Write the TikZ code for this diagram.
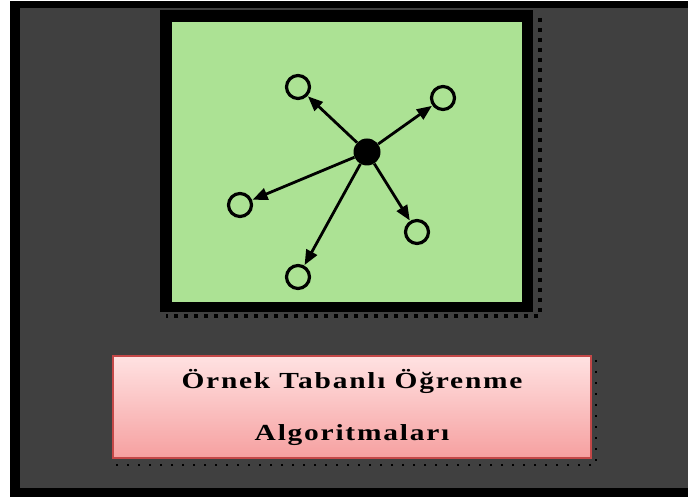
\documentclass[tikz,border=0pt]{standalone}
\usepackage{fontspec}
\setmainfont{Liberation Serif}
\usetikzlibrary{arrows.meta}

\definecolor{slate}{RGB}{64,64,64}
\definecolor{leaf}{RGB}{172,226,148}
\definecolor{rosetop}{RGB}{255,226,226}
\definecolor{rosebot}{RGB}{246,160,160}
\definecolor{roseline}{RGB}{196,72,72}

\newcommand{\widetext}[1]{\scalebox{1.28}[1]{\addfontfeatures{LetterSpace=6}#1}}

\tikzset{
  hollow/.style={circle, draw=black, line width=3.2pt, fill=none, minimum size=23pt, inner sep=0pt},
  hub/.style={circle, fill=black, minimum size=27pt, inner sep=0pt},
  spoke/.style={line width=2.8pt, -{Triangle[length=15pt,width=12pt]}, shorten >=0.5pt},
  shadowdots/.style={black, line width=4pt, dash pattern=on 4pt off 6pt},
  titlebox/.style={draw=roseline, line width=2pt, top color=rosetop, bottom color=rosebot,
    minimum width=478pt, minimum height=102pt, align=center,
    font=\bfseries\fontsize{23}{52}\selectfont}
}

\begin{document}
\begin{tikzpicture}[x=1pt,y=-1pt]
\useasboundingbox (0,0) rectangle (688,502);
\fill[white] (0,0) rectangle (688,502);
\fill[black] (10,1) rectangle (688,497); % frame
\fill[slate] (20,8) rectangle (688,488);

\draw[shadowdots] (540,18) -- (540,316) -- (166,316); % green box shadow
\fill[black] (160,10) rectangle (533,312);
\fill[leaf] (172,22) rectangle (522,302);

\node[hub] (c) at (367,152) {}; % centre
\node[hollow] (n1) at (298,87) {}; % upper left
\node[hollow] (n2) at (443,98) {}; % upper right
\node[hollow] (n3) at (240,205) {}; % left
\node[hollow] (n4) at (417,232) {}; % lower right
\node[hollow] (n5) at (298,277) {}; % bottom
\foreach \n in {n1,n2,n3,n4,n5}
  \draw[spoke] (c) -- (\n);

\draw[black, line width=1.5pt, dash pattern=on 2pt off 9pt] (596,360) -- (596,465) -- (116,465); % title shadow
\node[titlebox] (title) at (352,407) {\widetext{Örnek Tabanlı Öğrenme}\\\widetext{Algoritmaları}};
\end{tikzpicture}
\end{document}
